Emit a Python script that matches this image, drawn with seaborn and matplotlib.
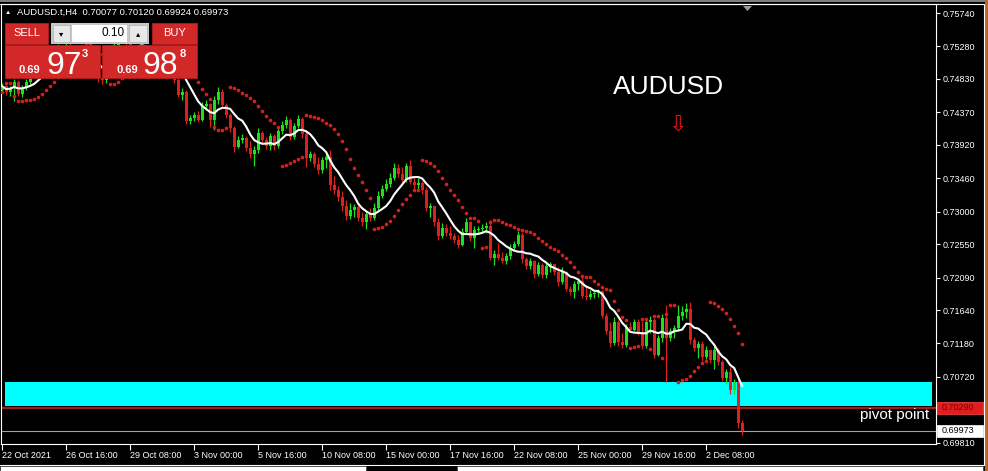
import numpy as np
import pandas as pd
import matplotlib
matplotlib.use("Agg")
import matplotlib.pyplot as plt
import matplotlib.transforms as mtransforms
from matplotlib.patches import Rectangle, Polygon
import seaborn as sns

# --- data (AUDUSD H4, 22 Oct - 3 Dec 2021) ---
symbol = "AUDUSD.t,H4"
last_ohlc = ["0.70077", "0.70120", "0.69924", "0.69973"]
first_open = 0.7468

closes = [0.7473, 0.7465, 0.7471, 0.7479, 0.7462, 0.7471, 0.7479, 0.7488, 0.7495, 0.7504,
          0.7509, 0.7515, 0.7512, 0.7520, 0.7526, 0.7523, 0.7530, 0.7526, 0.7516, 0.7509,
          0.7512, 0.7502, 0.7495, 0.7490, 0.7484, 0.7482, 0.7487, 0.7506, 0.7530, 0.7551,
          0.7544, 0.7534, 0.7526, 0.7516, 0.7520, 0.7515, 0.7517, 0.7523, 0.7515, 0.7509,
          0.7512, 0.7504, 0.7495, 0.7482, 0.7461, 0.7465, 0.7425, 0.7429, 0.7433, 0.7426,
          0.7446, 0.7448, 0.7426, 0.7454, 0.7465, 0.7447, 0.7433, 0.7415, 0.7389, 0.7399,
          0.7402, 0.7388, 0.7379, 0.7385, 0.7408, 0.7399, 0.7391, 0.7404, 0.7391, 0.7411,
          0.7419, 0.7426, 0.7403, 0.7418, 0.7428, 0.7407, 0.7374, 0.7379, 0.7366, 0.7357,
          0.7371, 0.7375, 0.7337, 0.7330, 0.7320, 0.7308, 0.7294, 0.7302, 0.7306, 0.7291,
          0.7286, 0.7297, 0.7291, 0.7305, 0.7322, 0.7331, 0.7338, 0.7346, 0.7360, 0.7352,
          0.7344, 0.7363, 0.7341, 0.7337, 0.7339, 0.7330, 0.7305, 0.7308, 0.7286, 0.7266,
          0.7277, 0.7270, 0.7266, 0.7261, 0.7254, 0.7272, 0.7286, 0.7264, 0.7275, 0.7276,
          0.7277, 0.7280, 0.7236, 0.7241, 0.7236, 0.7232, 0.7239, 0.7250, 0.7255, 0.7268,
          0.7235, 0.7225, 0.7232, 0.7214, 0.7226, 0.7212, 0.7225, 0.7228, 0.7217, 0.7203,
          0.7217, 0.7193, 0.7189, 0.7200, 0.7204, 0.7184, 0.7182, 0.7186, 0.7188, 0.7190,
          0.7156, 0.7135, 0.7119, 0.7148, 0.7120, 0.7116, 0.7141, 0.7137, 0.7148, 0.7132,
          0.7115, 0.7148, 0.7150, 0.7102, 0.7126, 0.7153, 0.7126, 0.7135, 0.7139, 0.7156,
          0.7161, 0.7166, 0.7123, 0.7112, 0.7117, 0.7099, 0.7109, 0.7095, 0.7109, 0.7092,
          0.7070, 0.7079, 0.7054, 0.7065, 0.70077, 0.69973]

highs = [0.7477, 0.7476, 0.7473, 0.7483, 0.7482, 0.7475, 0.7483, 0.7493, 0.7501, 0.7509,
         0.7513, 0.7520, 0.7519, 0.7524, 0.7531, 0.7530, 0.7535, 0.7533, 0.7529, 0.7519,
         0.7516, 0.7513, 0.7505, 0.7498, 0.7493, 0.7488, 0.7491, 0.7512, 0.7537, 0.7556,
         0.7553, 0.7546, 0.7537, 0.7529, 0.7526, 0.7523, 0.7522, 0.7527, 0.7524, 0.7517,
         0.7516, 0.7513, 0.7506, 0.7498, 0.7484, 0.7471, 0.7468, 0.7433, 0.7437, 0.7439,
         0.7451, 0.7454, 0.7450, 0.7460, 0.7472, 0.7469, 0.7450, 0.7436, 0.7418, 0.7404,
         0.7407, 0.7404, 0.7397, 0.7391, 0.7415, 0.7411, 0.7403, 0.7408, 0.7407, 0.7417,
         0.7425, 0.7432, 0.7429, 0.7422, 0.7433, 0.7431, 0.7413, 0.7384, 0.7382, 0.7375,
         0.7375, 0.7381, 0.7385, 0.7349, 0.7335, 0.7328, 0.7316, 0.7312, 0.7310, 0.7309,
         0.7299, 0.7301, 0.7305, 0.7312, 0.7328, 0.7337, 0.7345, 0.7353, 0.7367, 0.7366,
         0.7362, 0.7367, 0.7371, 0.7349, 0.7346, 0.7342, 0.7334, 0.7312, 0.7308, 0.7291,
         0.7284, 0.7283, 0.7280, 0.7270, 0.7268, 0.7277, 0.7291, 0.7287, 0.7280, 0.7280,
         0.7283, 0.7286, 0.7288, 0.7247, 0.7257, 0.7244, 0.7243, 0.7255, 0.7259, 0.7273,
         0.7272, 0.7237, 0.7236, 0.7233, 0.7230, 0.7229, 0.7229, 0.7230, 0.7228, 0.7224,
         0.7224, 0.7218, 0.7197, 0.7204, 0.7207, 0.7210, 0.7196, 0.7192, 0.7190, 0.7193,
         0.7192, 0.7160, 0.7148, 0.7155, 0.7150, 0.7132, 0.7145, 0.7148, 0.7152, 0.7152,
         0.7149, 0.7152, 0.7156, 0.7153, 0.7130, 0.7159, 0.7171, 0.7139, 0.7143, 0.7171,
         0.7170, 0.7174, 0.7175, 0.7127, 0.7121, 0.7121, 0.7115, 0.7109, 0.7115, 0.7112,
         0.7095, 0.7083, 0.7086, 0.7069, 0.7068, 0.70120]

lows = [0.7465, 0.7461, 0.7460, 0.7453, 0.7460, 0.7458, 0.7468, 0.7476, 0.7484, 0.7493,
        0.7498, 0.7505, 0.7506, 0.7509, 0.7516, 0.7519, 0.7520, 0.7522, 0.7512, 0.7505,
        0.7504, 0.7498, 0.7490, 0.7484, 0.7479, 0.7476, 0.7477, 0.7484, 0.7504, 0.7526,
        0.7537, 0.7529, 0.7520, 0.7511, 0.7512, 0.7509, 0.7509, 0.7513, 0.7511, 0.7505,
        0.7504, 0.7500, 0.7490, 0.7477, 0.7458, 0.7454, 0.7421, 0.7421, 0.7425, 0.7424,
        0.7425, 0.7440, 0.7417, 0.7413, 0.7448, 0.7443, 0.7429, 0.7410, 0.7382, 0.7388,
        0.7395, 0.7384, 0.7374, 0.7363, 0.7381, 0.7395, 0.7386, 0.7385, 0.7385, 0.7388,
        0.7407, 0.7415, 0.7399, 0.7400, 0.7415, 0.7402, 0.7362, 0.7370, 0.7362, 0.7352,
        0.7353, 0.7360, 0.7330, 0.7324, 0.7315, 0.7301, 0.7288, 0.7290, 0.7293, 0.7287,
        0.7280, 0.7276, 0.7287, 0.7288, 0.7302, 0.7319, 0.7328, 0.7334, 0.7344, 0.7348,
        0.7339, 0.7341, 0.7338, 0.7330, 0.7330, 0.7324, 0.7301, 0.7293, 0.7280, 0.7261,
        0.7264, 0.7266, 0.7262, 0.7257, 0.7250, 0.7253, 0.7269, 0.7259, 0.7250, 0.7269,
        0.7272, 0.7270, 0.7233, 0.7226, 0.7233, 0.7229, 0.7228, 0.7235, 0.7247, 0.7253,
        0.7229, 0.7221, 0.7221, 0.7208, 0.7211, 0.7208, 0.7208, 0.7217, 0.7212, 0.7197,
        0.7200, 0.7190, 0.7185, 0.7181, 0.7192, 0.7181, 0.7178, 0.7179, 0.7181, 0.7182,
        0.7153, 0.7131, 0.7113, 0.7116, 0.7115, 0.7112, 0.7113, 0.7134, 0.7135, 0.7130,
        0.7110, 0.7112, 0.7132, 0.7098, 0.7101, 0.7120, 0.7065, 0.7121, 0.7126, 0.7135,
        0.7150, 0.7153, 0.7117, 0.7108, 0.7098, 0.7094, 0.7097, 0.7091, 0.7083, 0.7088,
        0.7066, 0.7062, 0.7048, 0.7048, 0.7001, 0.69924]

date_ticks = [0, 16, 32, 48, 64, 80, 96, 112, 128, 144, 160, 176]
date_labels = ["22 Oct 2021", "26 Oct 16:00", "29 Oct 08:00", "3 Nov 00:00", "5 Nov 16:00",
               "10 Nov 08:00", "15 Nov 00:00", "17 Nov 16:00", "22 Nov 08:00",
               "25 Nov 00:00", "29 Nov 16:00", "2 Dec 08:00"]
price_ticks = [0.75740, 0.75280, 0.74830, 0.74370, 0.73920, 0.73460, 0.73000,
               0.72550, 0.72090, 0.71640, 0.71180, 0.70720, 0.69810]

pivot_price = 0.70290
zone_low, zone_high = 0.70317, 0.70648
bid_price = 0.69973

# --- indicators ---
opens = [first_open] + closes[:-1]
df = pd.DataFrame({"open": opens, "high": highs, "low": lows, "close": closes})
df["bar"] = np.arange(len(df))
df["ma"] = df["close"].rolling(8, min_periods=1).mean()


def parabolic_sar(high, low, step=0.02, max_step=0.2):
    sar = np.zeros(len(high))
    up = True
    af = step
    ep = high[0]
    sar[0] = low[0]
    for i in range(1, len(high)):
        s = sar[i - 1] + af * (ep - sar[i - 1])
        if up:
            s = min(s, low[i - 1], low[max(i - 2, 0)])
            if low[i] < s:
                up, s, ep, af = False, ep, low[i], step
            elif high[i] > ep:
                ep, af = high[i], min(af + step, max_step)
        else:
            s = max(s, high[i - 1], high[max(i - 2, 0)])
            if high[i] > s:
                up, s, ep, af = True, ep, high[i], step
            elif low[i] < ep:
                ep, af = low[i], min(af + step, max_step)
        sar[i] = s
    return sar


df["sar"] = parabolic_sar(df["high"].values, df["low"].values)

# --- style ---
sns.set_style("dark", rc={"axes.facecolor": "black", "figure.facecolor": "black",
                          "axes.edgecolor": "white", "xtick.color": "white",
                          "ytick.color": "white", "text.color": "white",
                          "axes.grid": False})
plt.rcParams["font.family"] = ["Liberation Sans", "DejaVu Sans"]

W, H = 988, 471
fig = plt.figure(figsize=(9.88, 4.71), dpi=100)
ax = fig.add_axes([1 / W, 27 / H, 935 / W, 440 / H])
ax.set_facecolor("black")

xmin = -0.3
xmax = xmin + 935 / 4
ax.set_xlim(xmin, xmax)
ax.set_ylim(0.69793, 0.75865)

# zone + lines
ax.add_patch(Rectangle((0.6, zone_low), 232.45 - 0.6, zone_high - zone_low,
                       fc="#00ffff", ec="none", zorder=1))
ax.axhline(pivot_price, color="#a01c1c", lw=1.6, zorder=2)
ax.axhline(bid_price, color="#a0a0a0", lw=0.8, zorder=2)

# candles
bull = df["close"] >= df["open"]
colors = np.where(bull, "#1fe01f", "#dc1f1f")
ax.vlines(df["bar"], df["low"], df["high"], colors=colors, lw=0.9, zorder=3)
body_bottom = np.minimum(df["open"], df["close"])
body_h = np.maximum((df["close"] - df["open"]).abs(), 0.00012)
ax.bar(df["bar"], body_h, bottom=body_bottom, width=0.72, color=colors, lw=0, zorder=4)

# moving average + parabolic SAR
sns.lineplot(data=df, x="bar", y="ma", color="white", lw=1.5, ax=ax, zorder=5)
sns.scatterplot(data=df, x="bar", y="sar", color="#d41f1f", s=7, linewidth=0,
                ax=ax, zorder=5)
ax.set_xlabel("")
ax.set_ylabel("")

# axes / ticks
for sp in ax.spines.values():
    sp.set_color("white")
    sp.set_linewidth(0.8)
ax.yaxis.tick_right()
ax.set_yticks(price_ticks)
ax.set_yticklabels([f"{p:.5f}" for p in price_ticks])
ax.tick_params(axis="y", right=True, left=False, labelright=True, labelleft=False,
               length=3, width=0.8, pad=2, labelsize=6.5, colors="white")
ax.set_xticks(date_ticks)
ax.set_xticklabels(date_labels)
ax.tick_params(axis="x", bottom=True, length=4, width=0.8, pad=1, labelsize=6.5,
               colors="white")
for lbl in ax.get_xticklabels():
    lbl.set_ha("left")

# text objects on the chart
ax.text(166.6, 0.74623, "AUDUSD", color="white", fontsize=19, ha="center",
        va="baseline", zorder=6)
ax.text(168.8, 0.74195, "\u21e9", color="#e01414", fontsize=16, ha="center",
        va="center", family=["DejaVu Sans"], zorder=6)
ax.text(231.7, pivot_price - 0.00003, "pivot point", color="white", fontsize=11,
        ha="right", va="top", zorder=6)

# price labels on the right scale
trans = mtransforms.blended_transform_factory(ax.transAxes, ax.transData)
ax.add_patch(Rectangle((1.0011, pivot_price - 0.00083), 0.0492, 0.00166, transform=trans,
                       fc="#e31c1c", ec="#ff4a4a", lw=0.5, clip_on=False, zorder=6))
ax.text(1.0064, pivot_price, f"{pivot_price:.5f}", transform=trans, color="#7a0000",
        fontsize=6.5, ha="left", va="center", clip_on=False, zorder=7)
ax.add_patch(Rectangle((1.0011, bid_price - 0.00083), 0.0492, 0.00166, transform=trans,
                       fc="white", ec="white", lw=0.5, clip_on=False, zorder=6))
ax.text(1.0064, bid_price, f"{bid_price:.5f}", transform=trans, color="black",
        fontsize=6.5, ha="left", va="center", clip_on=False, zorder=7)

# --- terminal chrome (pixel coordinates) ---
ui = fig.add_axes([0, 0, 1, 1], zorder=10)
ui.set_xlim(0, W)
ui.set_ylim(H, 0)
ui.axis("off")
ui.patch.set_alpha(0)

ui.add_patch(Rectangle((0, 0), W, 2, fc="#7f7f7f", ec="none"))
ui.plot([0, 984], [3.5, 3.5], color="white", lw=0.8)
ui.plot([983.5, 983.5], [3.5, 465], color="white", lw=0.8)
ui.add_patch(Rectangle((985, 0), 3, H, fc="#b8682a", ec="none"))
ui.plot([0, 984], [464.5, 464.5], color="white", lw=0.8)
ui.add_patch(Rectangle((0, 466), 366, 6, fc="white", ec="#404040", lw=0.6))
ui.add_patch(Rectangle((457, 466), 526, 6, fc="white", ec="#404040", lw=0.6))
ui.add_patch(Polygon([(743, 6), (752, 6), (747.5, 11)], closed=True, fc="#9a9a9a",
                     ec="none"))

ui.text(5, 12.5, "\u25b2", color="white", fontsize=4.5, ha="left", va="center")
ui.text(17, 12.5, symbol + "  " + " ".join(last_ohlc), color="white", fontsize=6.8,
        ha="left", va="center")

red = "#d22828"
ui.add_patch(Rectangle((5, 23), 43, 21, fc=red, ec="#b51a1a", lw=0.6))
ui.text(26.5, 33.5, "SELL", color="white", fontsize=8, ha="center", va="center")
ui.add_patch(Rectangle((51, 23), 98, 21, fc="#c8c8c8", ec="none"))
ui.add_patch(Rectangle((53, 25), 17, 17, fc="#e8e8e8", ec="#b0b0b0", lw=0.5))
ui.add_patch(Rectangle((72, 25), 55, 17, fc="white", ec="none"))
ui.add_patch(Rectangle((129, 25), 18, 17, fc="#e8e8e8", ec="#b0b0b0", lw=0.5))
ui.text(61.5, 33.5, "\u25be", color="black", fontsize=6, ha="center", va="center",
        family=["DejaVu Sans"])
ui.text(138, 33.5, "\u25b4", color="black", fontsize=6, ha="center", va="center",
        family=["DejaVu Sans"])
ui.text(125, 33.5, "0.10", color="black", fontsize=8.5, ha="right", va="center")
ui.add_patch(Rectangle((152, 23), 45, 21, fc=red, ec="#b51a1a", lw=0.6))
ui.text(174.5, 33.5, "BUY", color="white", fontsize=8, ha="center", va="center")

ui.add_patch(Rectangle((5, 45), 95, 33, fc=red, ec="#b51a1a", lw=0.6))
ui.add_patch(Rectangle((102, 45), 95, 33, fc=red, ec="#b51a1a", lw=0.6))
ui.text(18, 73, "0.69", color="white", fontsize=8, fontweight="bold", ha="left",
        va="baseline")
ui.text(46, 74, "97", color="white", fontsize=23, ha="left", va="baseline")
ui.text(82, 57, "3", color="white", fontsize=8, fontweight="bold", ha="left",
        va="baseline")
ui.text(116, 73, "0.69", color="white", fontsize=8, fontweight="bold", ha="left",
        va="baseline")
ui.text(142, 74, "98", color="white", fontsize=23, ha="left", va="baseline")
ui.text(180, 57, "8", color="white", fontsize=8, fontweight="bold", ha="left",
        va="baseline")

fig.savefig("out.png", dpi=100, facecolor="black")
